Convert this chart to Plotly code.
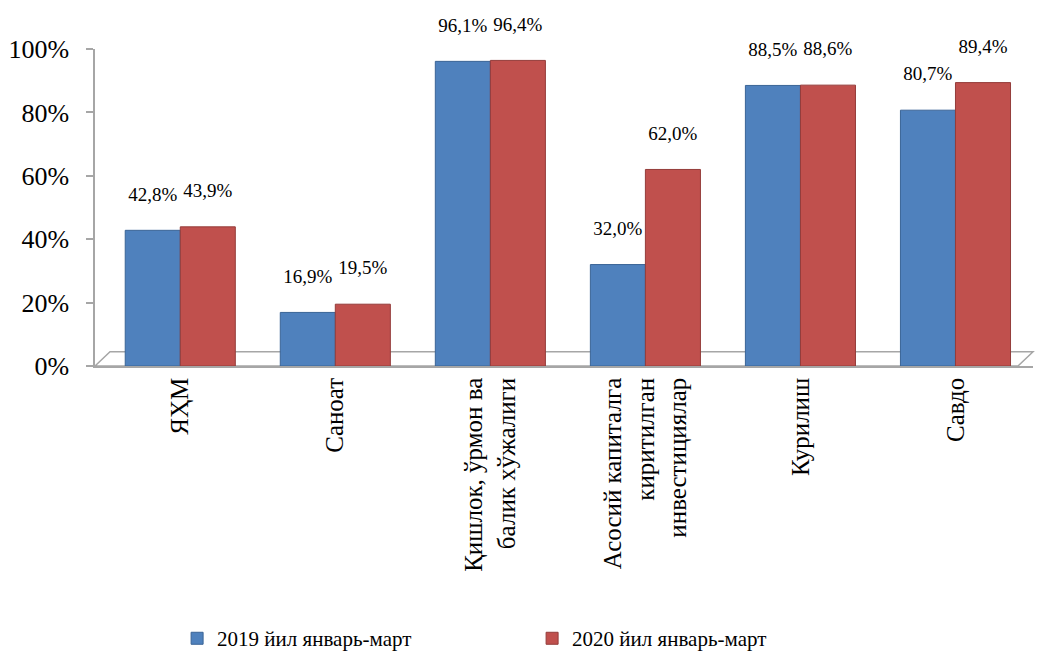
import plotly.graph_objects as go

categories = ["ЯҲМ", "Саноат", "Қишлок, ўрмон ва<br>балик хўжалиги",
              "Асосий капиталга<br>киритилган<br>инвестициялар", "Курилиш", "Савдо"]
series_names = ["2019 йил январь-март", "2020 йил январь-март"]
values_2019 = [42.8, 16.9, 96.1, 32.0, 88.5, 80.7]
values_2020 = [43.9, 19.5, 96.4, 62.0, 88.6, 89.4]
y_ticks = [0, 20, 40, 60, 80, 100]
y_tick_labels = ["0%", "20%", "40%", "60%", "80%", "100%"]

def fmt(v):
    return (f"{v:.1f}".replace(".", ",") + "%" +
            "<br><span style='font-size:11px'> </span>")

font_family = "Liberation Serif, Times New Roman, serif"

fig = go.Figure()
fig.add_trace(go.Bar(
    x=categories, y=values_2019, name=series_names[0],
    marker=dict(color="#4F81BD", line=dict(color="#3A6496", width=1)),
    text=[fmt(v) for v in values_2019], textposition="outside",
    textfont=dict(family=font_family, size=19, color="black"),
    constraintext="none", cliponaxis=False,
))
fig.add_trace(go.Bar(
    x=categories, y=values_2020, name=series_names[1],
    marker=dict(color="#C0504D", line=dict(color="#943C3A", width=1)),
    text=[fmt(v) for v in values_2020], textposition="outside",
    textfont=dict(family=font_family, size=19, color="black"),
    constraintext="none", cliponaxis=False,
))

fig.update_layout(
    width=1038, height=660,
    margin=dict(l=95, r=5, t=49, b=294, autoexpand=False),
    paper_bgcolor="white", plot_bgcolor="white",
    barmode="group", bargap=0.29, bargroupgap=0,
    font=dict(family=font_family, color="black"),
    showlegend=True,
    legend=dict(orientation="h", x=0.466, xanchor="center", y=-0.86, yanchor="middle",
                font=dict(family=font_family, size=21), itemwidth=30,
                entrywidth=310, traceorder="normal"),
    uniformtext=dict(mode=False),
)
fig.update_xaxes(
    type="category", range=[-0.55, 5.5], tickangle=-90, automargin=False,
    tickfont=dict(family=font_family, size=25, color="black"),
    showline=True, linecolor="#A6A6A6", linewidth=1.5,
    ticks="", showgrid=False,
)
fig.update_yaxes(
    range=[0, 100], tickvals=y_ticks, ticktext=y_tick_labels, automargin=False,
    tickfont=dict(family=font_family, size=26, color="black"),
    showline=True, linecolor="#A6A6A6", linewidth=1.5,
    ticks="outside", ticklen=7, tickcolor="#A6A6A6", tickwidth=1.5,
    showgrid=False, zeroline=False, ticklabelstandoff=12,
)
# 3D floor decoration
fig.add_shape(type="path", xref="paper", yref="paper",
              path="M 0 0 L 0.016 0.045 L 1.0 0.045 L 0.984 0 Z",
              line=dict(color="#A6A6A6", width=1.5), fillcolor="rgba(0,0,0,0)",
              layer="below")

fig.write_html("out.html", config={"displayModeBar": False},
               post_script="document.body.style.margin='0px';")
